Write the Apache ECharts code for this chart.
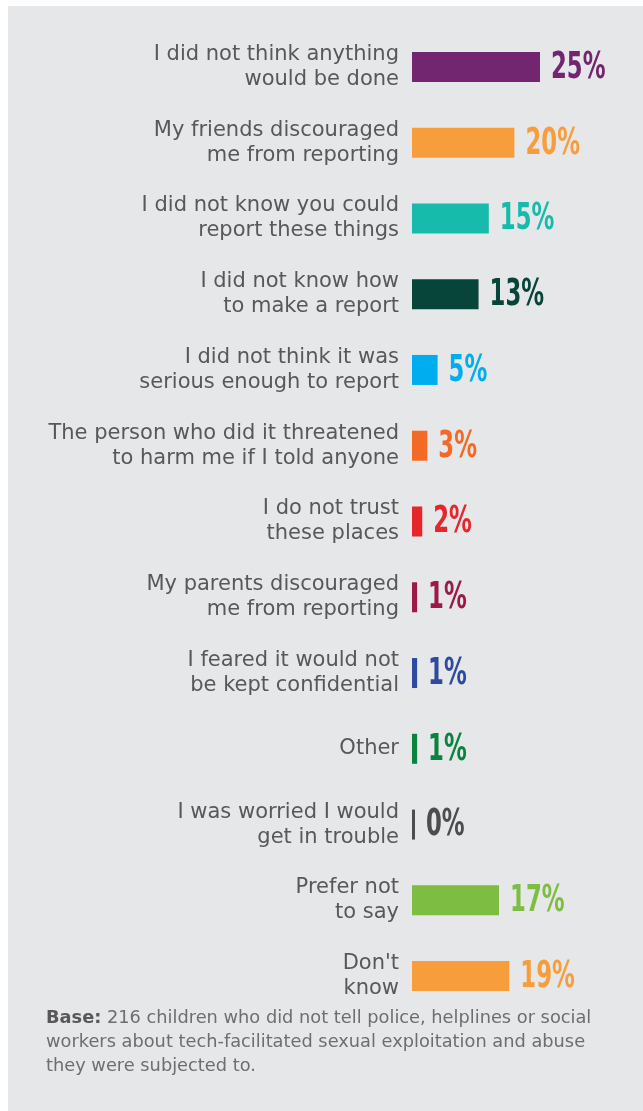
<!DOCTYPE html>
<html>
<head>
<meta charset="utf-8">
<script src="https://cdn.jsdelivr.net/npm/echarts@6/dist/echarts.min.js"></script>
<style>
html,body{margin:0;padding:0;background:#ffffff;}
#chart{width:643px;height:1111px;}
</style>
</head>
<body>
<div id="chart"></div>
<script>
const categories = [
  "I did not think anything\nwould be done",
  "My friends discouraged\nme from reporting",
  "I did not know you could\nreport these things",
  "I did not know how\nto make a report",
  "I did not think it was\nserious enough to report",
  "The person who did it threatened\nto harm me if I told anyone",
  "I do not trust\nthese places",
  "My parents discouraged\nme from reporting",
  "I feared it would not\nbe kept confidential",
  "Other",
  "I was worried I would\nget in trouble",
  "Prefer not\nto say",
  "Don't\nknow"
];
const values = [25, 20, 15, 13, 5, 3, 2, 1, 1, 1, 0, 17, 19];
const colors = ["#72266f", "#f79d3b", "#17bbab", "#07443a", "#00aeef", "#f26a26", "#e5262b", "#9b1a4a", "#2e4aa0", "#0a8341", "#4d4d4f", "#7cbd42", "#f79d3b"];
const footBold = "Base:";
const footText = " 216 children who did not tell police, helplines or social\nworkers about tech-facilitated sexual exploitation and abuse\nthey were subjected to.";

const chart = echarts.init(document.getElementById('chart'), null, {renderer: 'canvas'});
chart.setOption({
  animation: false,
  backgroundColor: '#ffffff',
  graphic: [
    {type: 'rect', z: -10, shape: {x: 8, y: 6, width: 635, height: 1105}, style: {fill: '#e6e7e8'}},
    {type: 'text', left: 46, top: 1009, style: {
      text: '{b|' + footBold + '}' + footText.split('\n').map((s, i) => '{r|' + s + '}').join('\n'),
      rich: {
        b: {fontFamily: 'DejaVu Sans', fontWeight: 'bold', fontSize: 17.8, fill: '#58585a', lineHeight: 24},
        r: {fontFamily: 'DejaVu Sans', fontSize: 17.8, fill: '#6d6e71', lineHeight: 24}
      }
    }}
  ],
  grid: {left: 412, width: 128, top: 29, bottom: 97, containLabel: false},
  xAxis: {type: 'value', min: 0, max: 25, show: false},
  yAxis: {
    type: 'category', data: categories, inverse: true,
    axisLine: {show: false}, axisTick: {show: false}, splitLine: {show: false},
    axisLabel: {margin: 13, color: '#58585a', fontFamily: 'DejaVu Sans', fontSize: 21, lineHeight: 25, align: 'right', padding: [0, 0, 9, 0]}
  },
  series: [{
    type: 'bar', barWidth: 30, barMinHeight: 3,
    data: values.map((v, i) => ({value: v, itemStyle: {color: colors[i]}}))
  }, {
    type: 'custom',
    data: values.map((v, i) => [v, i]),
    renderItem: function (params, api) {
      const v = api.value(0), idx = api.value(1);
      const p = api.coord([v, idx]);
      const base = api.coord([0, idx]);
      const endX = Math.max(p[0], base[0] + 3);
      return {
        type: 'text',
        x: endX + 11, y: p[1] + 1,
        scaleX: 0.6, scaleY: 1,
        style: {
          x: 0, y: 0,
          text: v + '%',
          fill: colors[idx],
          fontFamily: 'DejaVu Sans', fontWeight: 'bold', fontSize: 38,
          align: 'left', verticalAlign: 'middle'
        }
      };
    }
  }]
});
</script>
</body>
</html>
